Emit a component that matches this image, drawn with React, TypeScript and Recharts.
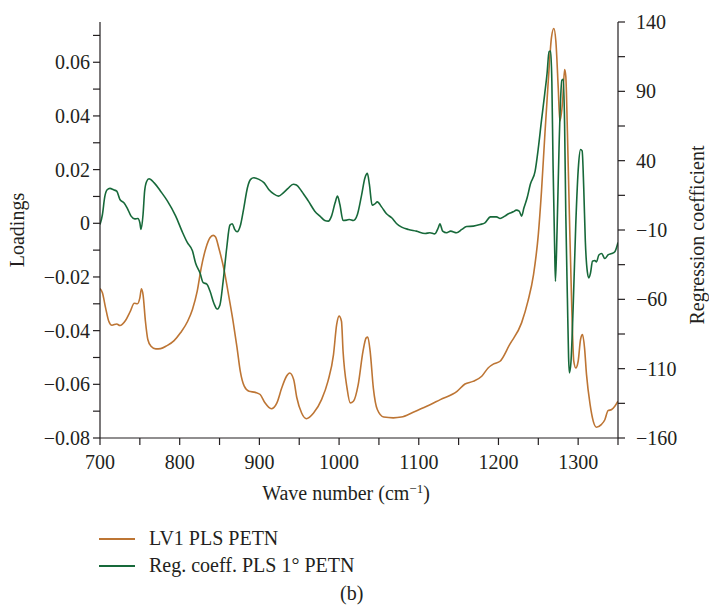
import { LineChart, Line, XAxis, YAxis, Legend, Label } from 'recharts'

// LV1 PLS PETN loadings (left axis)
const loadingWave = [
  700, 703, 707, 711, 715, 721, 725, 732, 738, 743, 747, 750, 752, 754, 757, 760, 764, 770, 776, 784,
  793, 801, 810, 816, 822, 827, 833, 838, 842, 845, 849, 856, 862, 867, 872, 876, 881, 887, 895, 901,
  907, 915, 922, 928, 934, 938, 943, 947, 953, 959, 968, 978, 986, 993, 997, 1000, 1003, 1005, 1010, 1014,
  1018, 1024, 1030, 1034, 1036, 1039, 1043, 1048, 1056, 1068, 1078, 1093, 1110, 1127, 1148, 1158, 1168, 1179, 1187, 1194,
  1202, 1214, 1229, 1237, 1244, 1250, 1254, 1258, 1262.5, 1266.5, 1269.5, 1272, 1275, 1277, 1280.5, 1283, 1284.5, 1286.5, 1289, 1292,
  1294.5, 1297, 1300, 1303, 1305.5, 1308, 1310.5, 1315, 1319, 1323, 1329, 1333.5, 1337.5, 1342, 1346, 1350,
]
const loadingValues = [
  -0.0243, -0.0259, -0.0315, -0.0365, -0.038, -0.0375, -0.0381, -0.0362, -0.0328, -0.0298, -0.03, -0.0278, -0.0244, -0.0266, -0.0365, -0.0433, -0.0458, -0.0468, -0.0467, -0.0456,
  -0.0437, -0.0408, -0.0365, -0.0321, -0.0253, -0.0166, -0.0091, -0.0054, -0.0045, -0.0051, -0.0091, -0.0178, -0.0278, -0.0365, -0.0464, -0.0551, -0.0607, -0.0626, -0.063, -0.0638,
  -0.0669, -0.0691, -0.0669, -0.0614, -0.057, -0.0558, -0.0582, -0.065, -0.0707, -0.0728, -0.0707, -0.0657, -0.0589, -0.0489, -0.0377, -0.0346, -0.0365, -0.0477, -0.0614, -0.0669,
  -0.0663, -0.0601, -0.0477, -0.0427, -0.0424, -0.0477, -0.0614, -0.0694, -0.0722, -0.0725, -0.0722, -0.0704, -0.0682, -0.0657, -0.0626, -0.0599, -0.0589, -0.057, -0.0539, -0.0524,
  -0.0514, -0.0452, -0.0371, -0.029, -0.0191, -0.0042, 0.012, 0.0319, 0.053, 0.0692, 0.0726, 0.0679, 0.0505, 0.0381, 0.0455, 0.0573, 0.0548, 0.0343, 0.0032, -0.0316,
  -0.0514, -0.0539, -0.0514, -0.0433, -0.0415, -0.0464, -0.0564, -0.0676, -0.0738, -0.076, -0.075, -0.0732, -0.0698, -0.0694, -0.0682, -0.0663,
]

// Reg. coeff. PLS 1° PETN (right axis)
const coeffWave = [
  700, 703, 706, 709, 712.5, 717, 721, 725, 730, 734, 739, 743.5, 747.5, 750, 751.5, 754, 756, 758.5, 761.5, 768,
  776, 784.5, 795, 803, 809.5, 816, 820, 825.5, 829.5, 834, 838, 843, 847, 850.5, 854.5, 859, 863, 866, 869, 872,
  876.5, 880.5, 885, 889, 893, 899.5, 906, 912, 918, 924, 930, 936, 942.5, 946.5, 953, 961.5, 969.5, 976, 982, 986.5,
  990.5, 995, 998, 1001, 1005, 1009.5, 1013, 1018, 1023, 1028, 1032.5, 1035.5, 1038, 1041.5, 1045, 1048, 1053.5, 1059.5, 1066, 1072,
  1078.5, 1087, 1097, 1108, 1114, 1120, 1124.5, 1126.5, 1130, 1135, 1140, 1147.5, 1154, 1160, 1168.5, 1177, 1183, 1190, 1197.5, 1202,
  1208, 1212.5, 1218.5, 1222.5, 1226, 1229, 1232, 1236, 1240, 1246, 1250, 1254, 1258, 1261, 1263.5, 1265.5, 1267, 1268.5, 1270.5, 1271.5,
  1273.5, 1276, 1278, 1279.5, 1281.5, 1283, 1284.5, 1286.5, 1288, 1289, 1291, 1294, 1297, 1300.5, 1303, 1305, 1307, 1309, 1311.5, 1313.5,
  1315.5, 1318, 1321, 1323, 1326, 1329.5, 1333.5, 1337.5, 1342, 1346, 1350,
]
const coeffValues = [
  -6, 1, 14, 19, 20, 19, 18, 12, 9.6, 6, 0, -2, -1.7, -4.8, -9.6, 1, 18, 25, 27, 24,
  18, 11, 0, -11, -19, -25, -34, -41, -48, -49, -54, -63, -67, -64, -47, -23, -6.5, -5.5, -9.6, -11.3,
  -6, 6, 20.5, 26.5, 27.7, 26.5, 24, 19, 16, 14.4, 16.8, 20, 23, 22.4, 18, 10.8, 3.6, 0, -3.1, -3.6,
  0, 9.6, 14.4, 8.4, -3.1, -2.9, -2.4, -3.1, 1.2, 14.4, 27.7, 30.8, 23, 7.9, 8.9, 10.3, 6.5, 1.7, -1.2, -5.3,
  -7.9, -9.6, -10.8, -12.5, -12, -12.8, -8.4, -5.5, -10.8, -12, -10.8, -12, -9.6, -7.5, -7.2, -6, -4.8, -0.5, -0.5, -1.7,
  0, 1.7, 3.1, 4.3, 3.6, 0, 6, 13.2, 23, 32.5, 49, 69, 88, 103, 118.6, 119, 97, 37, -23, -47,
  -11, 49, 85, 98, 98.6, 66, 1.2, -59, -102, -113, -105, -61, -6, 37, 48, 47, 20.5, -18, -40, -44.5,
  -41, -32.5, -32, -33, -28, -27, -30.6, -28, -27, -25.7, -19,
]

const xTicks = [700, 750, 800, 850, 900, 950, 1000, 1050, 1100, 1150, 1200, 1250, 1300, 1350]
const leftTicks = [-0.08, -0.07, -0.06, -0.05, -0.04, -0.03, -0.02, -0.01, 0, 0.01, 0.02, 0.03, 0.04, 0.05, 0.06, 0.07]
const rightTicks = [-160, -135, -110, -85, -60, -35, -10, 15, 40, 65, 90, 115, 140]

const loadingData = loadingWave.map((w, i) => ({ w, v: loadingValues[i] }))
const coeffData = coeffWave.map((w, i) => ({ w, v: coeffValues[i] }))

const FONT = '"Liberation Serif", "DejaVu Serif", serif'
const INK = '#231f20'
const ORANGE = '#bd7534'
const GREEN = '#17693a'
const TICK = 7

const fmt = (v: number) => (v < 0 ? '\u2212' + String(Math.abs(v)) : String(v))

function XTick({ x, y, payload }: any) {
  const v = payload.value
  const major = v % 100 === 0 && v < 1350
  return (
    <g>
      <line x1={x} x2={x} y1={y} y2={y + TICK} stroke={INK} strokeWidth={1.2} />
      {major && (
        <text x={x} y={y + 31} textAnchor="middle" fontSize={20} fill={INK} fontFamily={FONT}>
          {v}
        </text>
      )}
    </g>
  )
}

function LeftTick({ x, y, payload }: any) {
  const v = payload.value
  const major = Math.round(v * 100) % 2 === 0
  return (
    <g>
      <line x1={x - TICK} x2={x} y1={y} y2={y} stroke={INK} strokeWidth={1.2} />
      {major && (
        <text x={x - 10} y={y + 7} textAnchor="end" fontSize={20} fill={INK} fontFamily={FONT}>
          {fmt(Math.round(v * 100) / 100)}
        </text>
      )}
    </g>
  )
}

function RightTick({ x, y, payload }: any) {
  const v = payload.value
  const major = (v + 160) % 50 === 0
  return (
    <g>
      <line x1={x} x2={x + TICK} y1={y} y2={y} stroke={INK} strokeWidth={1.2} />
      {major && (
        <text x={x + 18} y={y + 7} textAnchor="start" fontSize={20} fill={INK} fontFamily={FONT}>
          {fmt(v)}
        </text>
      )}
    </g>
  )
}

function LegendBox({ payload }: any) {
  return (
    <div style={{ fontFamily: FONT, fontSize: 20, color: INK, lineHeight: '27px' }}>
      {(payload || []).map((p: any) => (
        <div key={p.value} style={{ display: 'flex', alignItems: 'center' }}>
          <span style={{ display: 'inline-block', width: 36, height: 0, borderTop: `2px solid ${p.color}`, marginRight: 14 }} />
          <span>{p.value}</span>
        </div>
      ))}
    </div>
  )
}

export default function App() {
  return (
    <div style={{ position: 'absolute', left: 0, top: 0, width: 709, height: 614, background: '#fff', fontFamily: FONT }}>
      <LineChart width={709} height={614} margin={{ top: 22, right: 0, bottom: 136, left: 0 }}>
        <XAxis
          xAxisId="bottom"
          dataKey="w"
          type="number"
          domain={[700, 1350]}
          ticks={xTicks}
          allowDataOverflow
          height={40}
          tickSize={0}
          tickMargin={0}
          tickLine={false}
          tick={XTick}
          axisLine={{ stroke: INK, strokeWidth: 1.2 }}
        >
          <Label
            content={() => (
              <text x={346} y={500} textAnchor="middle" fontSize={20} fill={INK} fontFamily={FONT}>
                Wave number (cm
                <tspan dy={-7} fontSize={13}>{'\u22121'}</tspan>
                <tspan dy={7}>)</tspan>
              </text>
            )}
          />
        </XAxis>
        <XAxis
          xAxisId="top"
          dataKey="w"
          type="number"
          orientation="top"
          domain={[700, 1350]}
          height={0}
          tick={false}
          tickLine={false}
          axisLine={{ stroke: INK, strokeWidth: 1.2 }}
        />
        <YAxis
          yAxisId="left"
          orientation="left"
          type="number"
          domain={[-0.08, 0.075]}
          ticks={leftTicks}
          allowDataOverflow
          width={100}
          tickSize={0}
          tickMargin={0}
          tickLine={false}
          tick={LeftTick}
          axisLine={{ stroke: INK, strokeWidth: 1.2 }}
        >
          <Label
            content={() => (
              <text x={24} y={230} transform="rotate(-90 24 230)" textAnchor="middle" fontSize={20} fill={INK} fontFamily={FONT}>
                Loadings
              </text>
            )}
          />
        </YAxis>
        <YAxis
          yAxisId="right"
          orientation="right"
          type="number"
          domain={[-160, 140]}
          ticks={rightTicks}
          allowDataOverflow
          width={91}
          tickSize={0}
          tickMargin={0}
          tickLine={false}
          tick={RightTick}
          axisLine={{ stroke: INK, strokeWidth: 1.2 }}
        >
          <Label
            content={() => (
              <text x={704} y={235} transform="rotate(-90 704 235)" textAnchor="middle" fontSize={20} fill={INK} fontFamily={FONT}>
                Regression coefficient
              </text>
            )}
          />
        </YAxis>
        <Legend
          layout="vertical"
          align="center"
          verticalAlign="middle"
          content={LegendBox}
          wrapperStyle={{ position: 'absolute', left: 99, top: 525, width: 320, bottom: 'auto' }}
        />
        <Line
          xAxisId="bottom"
          yAxisId="left"
          data={loadingData}
          dataKey="v"
          name="LV1 PLS PETN"
          type="monotone"
          stroke={ORANGE}
          strokeWidth={1.6}
          dot={false}
          activeDot={false}
          isAnimationActive={false}
        />
        <Line
          xAxisId="bottom"
          yAxisId="right"
          data={coeffData}
          dataKey="v"
          name="Reg. coeff. PLS 1° PETN"
          type="monotone"
          stroke={GREEN}
          strokeWidth={1.6}
          dot={false}
          activeDot={false}
          isAnimationActive={false}
        />
      </LineChart>
      <div style={{ position: 'absolute', left: 340, top: 582, fontSize: 20, color: INK }}>(b)</div>
    </div>
  )
}
